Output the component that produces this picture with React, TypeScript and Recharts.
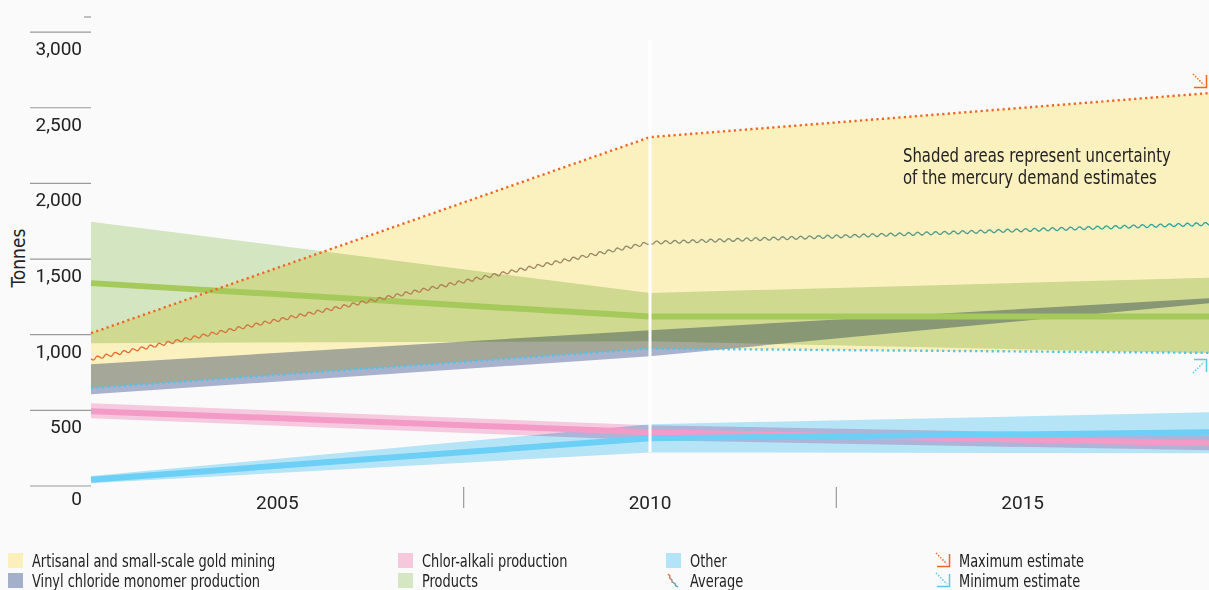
import React from 'react';
import { ComposedChart, Area, Line, XAxis, YAxis, ReferenceLine } from 'recharts';

// x positions: chart runs edge to edge, kink at 2010
const years = [2002.5, 2010, 2017.5];
const yTicks = [0, 500, 1000, 1500, 2000, 2500, 3000, 3100];
const xTicks = [2005, 2007.5, 2010, 2012.5, 2015];

// Artisanal and small-scale gold mining (min / max / average)
const asgmMin = [648, 908, 880];
const asgmMax = [1010, 2306, 2597];
const asgmAvg = [840, 1608, 1732];
// Vinyl chloride monomer production
const vcmLow = [606, 858, 1208];
const vcmHigh = [805, 1030, 1241];
// Products
const productsLow = [944, 957, 877];
const productsHigh = [1746, 1276, 1376];
const productsMid = [1341, 1120, 1120];
// Chlor-alkali production
const chlorLow = [448, 302, 236];
const chlorHigh = [547, 401, 335];
const chlorMid = [494, 356, 282];
// Other
const otherLow = [18, 222, 216];
const otherHigh = [66, 408, 487];
const otherMid = [42, 315, 355];

const data = years.map((year, i) => ({
  year,
  asgm: [asgmMin[i], asgmMax[i]],
  vcm: [vcmLow[i], vcmHigh[i]],
  products: [productsLow[i], productsHigh[i]],
  chlor: [chlorLow[i], chlorHigh[i]],
  other: [otherLow[i], otherHigh[i]],
  productsMid: productsMid[i],
  chlorMid: chlorMid[i],
  otherMid: otherMid[i],
  min: asgmMin[i],
  max: asgmMax[i],
  avg: asgmAvg[i],
}));

const NARROW = '"Liberation Sans Narrow", "DejaVu Sans Condensed", sans-serif';
const TICK_FONT = 'Roboto, sans-serif';

// d3-style curve that draws a small sine wave along each segment
const WAVE = 9;
const AMP = 1.5;
const wavyCurve = (context: any) => {
  let x0 = 0;
  let y0 = 0;
  let started = false;
  return {
    areaStart() {},
    areaEnd() {},
    lineStart() {
      started = false;
    },
    lineEnd() {},
    point(x: number, y: number) {
      x = +x;
      y = +y;
      if (!started) {
        context.moveTo(x, y);
        started = true;
      } else {
        const dx = x - x0;
        const dy = y - y0;
        const len = Math.hypot(dx, dy) || 1;
        const nx = -dy / len;
        const ny = dx / len;
        const steps = Math.ceil(len);
        for (let i = 1; i <= steps; i++) {
          const t = i / steps;
          const off = Math.sin(((t * len) / WAVE) * 2 * Math.PI) * AMP;
          context.lineTo(x0 + dx * t + nx * off, y0 + dy * t + ny * off);
        }
      }
      x0 = x;
      y0 = y;
    },
  };
};

const YTick = ({ y, payload }: any) => {
  if (payload.value === 3100) {
    return <line x1={84} x2={91} y1={y} y2={y} stroke="#9a9a9a" strokeWidth={1.2} />;
  }
  const off = payload.value === 0 ? 19 : 23;
  return (
    <g>
      <line x1={30} x2={91} y1={y} y2={y} stroke="#9a9a9a" strokeWidth={1.2} />
      <text x={82} y={y + off} textAnchor="end" fontFamily={TICK_FONT} fontSize={19} fill="#222">
        {payload.value.toLocaleString('en-US')}
      </text>
    </g>
  );
};

const XTick = ({ x, payload }: any) => {
  if (payload.value % 5 !== 0) {
    return <line x1={x} x2={x} y1={487} y2={508} stroke="#9a9a9a" strokeWidth={1.2} />;
  }
  return (
    <text x={x} y={509} textAnchor="middle" fontFamily={TICK_FONT} fontSize={19} fill="#222">
      {payload.value}
    </text>
  );
};

const Arrow = ({ color, up = false }: { color: string; up?: boolean }) => (
  <svg width={16} height={16} style={{ display: 'block', overflow: 'visible' }}>
    {up ? (
      <g stroke={color} fill="none">
        <line x1={1} y1={15} x2={12} y2={4} strokeDasharray="1.5 1.5" strokeWidth={1.5} />
        <polyline points="2,1.5 14.5,1.5 14.5,14" strokeWidth={1.5} />
      </g>
    ) : (
      <g stroke={color} fill="none">
        <line x1={1} y1={1} x2={12} y2={12} strokeDasharray="1.5 1.5" strokeWidth={1.5} />
        <polyline points="14.5,2 14.5,14.5 2,14.5" strokeWidth={1.5} />
      </g>
    )}
  </svg>
);

const AvgIcon = () => (
  <svg width={14} height={16} style={{ display: 'block' }}>
    <defs>
      <linearGradient id="avgIcon" x1="0" y1="0" x2="1" y2="1">
        <stop offset="0" stopColor="#ef6a2a" />
        <stop offset="1" stopColor="#22a9d8" />
      </linearGradient>
    </defs>
    <path d="M2 2 L4 4 L3.5 6 L6 8 L6 10 L9 11.5 L9.5 13.5 L12 15" stroke="url(#avgIcon)" strokeWidth={1.3} fill="none" />
  </svg>
);

const legendItems = [
  { label: 'Artisanal and small-scale gold mining', color: '#fbf0bc', x: 8, row: 0 },
  { label: 'Vinyl chloride monomer production', color: '#a4afca', x: 8, row: 1 },
  { label: 'Chlor-alkali production', color: '#f5c8dc', x: 398, row: 0 },
  { label: 'Products', color: '#d4e6c2', x: 398, row: 1 },
  { label: 'Other', color: '#b3e3f6', x: 666, row: 0 },
  { label: 'Average', icon: <AvgIcon />, x: 666, row: 1 },
  { label: 'Maximum estimate', icon: <Arrow color="#f26522" />, x: 935, row: 0 },
  { label: 'Minimum estimate', icon: <Arrow color="#5cc6ea" />, x: 935, row: 1 },
];

const condensed = (scale: number): React.CSSProperties => ({
  display: 'inline-block',
  transform: `scaleX(${scale})`,
  transformOrigin: 'left center',
  whiteSpace: 'nowrap',
});

export default function App() {
  return (
    <div style={{ position: 'relative', width: 1209, height: 590, background: '#fafafa', overflow: 'hidden' }}>
      <style>{'body{margin:0;background:#fafafa}.recharts-surface{isolation:isolate}.mb path{mix-blend-mode:multiply}'}</style>
      <ComposedChart width={1209} height={540} data={data} margin={{ top: 17, right: 0, left: 0, bottom: 0 }}>
        <defs>
          <linearGradient id="avgGrad" x1="0" y1="0" x2="1" y2="0">
            <stop offset="0" stopColor="#ef6a2a" />
            <stop offset="0.5" stopColor="#8f8a6c" />
            <stop offset="1" stopColor="#1fa7a2" />
          </linearGradient>
        </defs>
        <XAxis
          dataKey="year"
          type="number"
          domain={[2002.5, 2017.5]}
          ticks={xTicks}
          axisLine={false}
          tickLine={false}
          height={54}
          tick={<XTick />}
          interval={0}
        />
        <YAxis
          domain={[0, 3100]}
          ticks={yTicks}
          axisLine={false}
          tickLine={false}
          width={91}
          tick={<YTick />}
          interval={0}
        />
        <Area className="mb" dataKey="asgm" type="linear" fill="#fbf1be" fillOpacity={1} stroke="none" isAnimationActive={false} />
        <Area className="mb" dataKey="products" type="linear" fill="#d3e6c1" fillOpacity={1} stroke="none" isAnimationActive={false} />
        <Area className="mb" dataKey="vcm" type="linear" fill="#a8b2cd" fillOpacity={1} stroke="none" isAnimationActive={false} />
        <Area className="mb" dataKey="chlor" type="linear" fill="#f6cade" fillOpacity={1} stroke="none" isAnimationActive={false} />
        <Area className="mb" dataKey="other" type="linear" fill="#b5e4f7" fillOpacity={1} stroke="none" isAnimationActive={false} />
        <Line dataKey="productsMid" type="linear" stroke="#a6c95c" strokeWidth={6} dot={false} activeDot={false} isAnimationActive={false} />
        <Line dataKey="chlorMid" type="linear" stroke="#f49ac6" strokeWidth={6} dot={false} activeDot={false} isAnimationActive={false} />
        <Line dataKey="otherMid" type="linear" stroke="#6ccff6" strokeWidth={6} dot={false} activeDot={false} isAnimationActive={false} />
        <Line dataKey="avg" type={wavyCurve as any} stroke="url(#avgGrad)" strokeWidth={1.3} dot={false} activeDot={false} isAnimationActive={false} />
        <Line dataKey="max" type="linear" stroke="#f26522" strokeWidth={2.4} strokeDasharray="2.2 3.3" dot={false} activeDot={false} isAnimationActive={false} />
        <Line dataKey="min" type="linear" stroke="#4fc3ea" strokeWidth={2.4} strokeDasharray="2.2 3.3" dot={false} activeDot={false} isAnimationActive={false} />
        <ReferenceLine
          segment={[{ x: 2010, y: 223 }, { x: 2010, y: 2948 }]}
          stroke="#ffffff"
          strokeWidth={3}
          ifOverflow="visible"
        />
      </ComposedChart>

      <div
        style={{
          position: 'absolute',
          left: 18,
          top: 258,
          transform: 'translate(-50%, -50%) rotate(-90deg)',
          fontFamily: NARROW,
          fontSize: 19,
          color: '#222',
          whiteSpace: 'nowrap',
        }}
      >
        Tonnes
      </div>

      <div
        style={{
          position: 'absolute',
          left: 903,
          top: 144,
          fontFamily: NARROW,
          fontSize: 19,
          lineHeight: '22px',
          color: '#222',
        }}
      >
        <span style={condensed(0.87)}>Shaded areas represent uncertainty</span>
        <br />
        <span style={condensed(0.87)}>of the mercury demand estimates</span>
      </div>

      <div style={{ position: 'absolute', left: 1192, top: 73 }}>
        <Arrow color="#f26522" />
      </div>
      <div style={{ position: 'absolute', left: 1192, top: 358 }}>
        <Arrow color="#5cc6ea" up />
      </div>

      {legendItems.map((item) => (
        <div
          key={item.label}
          style={{
            position: 'absolute',
            left: item.x,
            top: 551 + item.row * 20,
            height: 18,
            display: 'flex',
            alignItems: 'center',
            fontFamily: NARROW,
            fontSize: 18,
            color: '#222',
            whiteSpace: 'nowrap',
          }}
        >
          <div style={{ width: 15, height: 16, marginRight: 9, display: 'flex', alignItems: 'center' }}>
            {item.icon ? item.icon : <div style={{ width: 15, height: 15, background: item.color }} />}
          </div>
          <span style={condensed(0.8)}>{item.label}</span>
        </div>
      ))}
    </div>
  );
}
